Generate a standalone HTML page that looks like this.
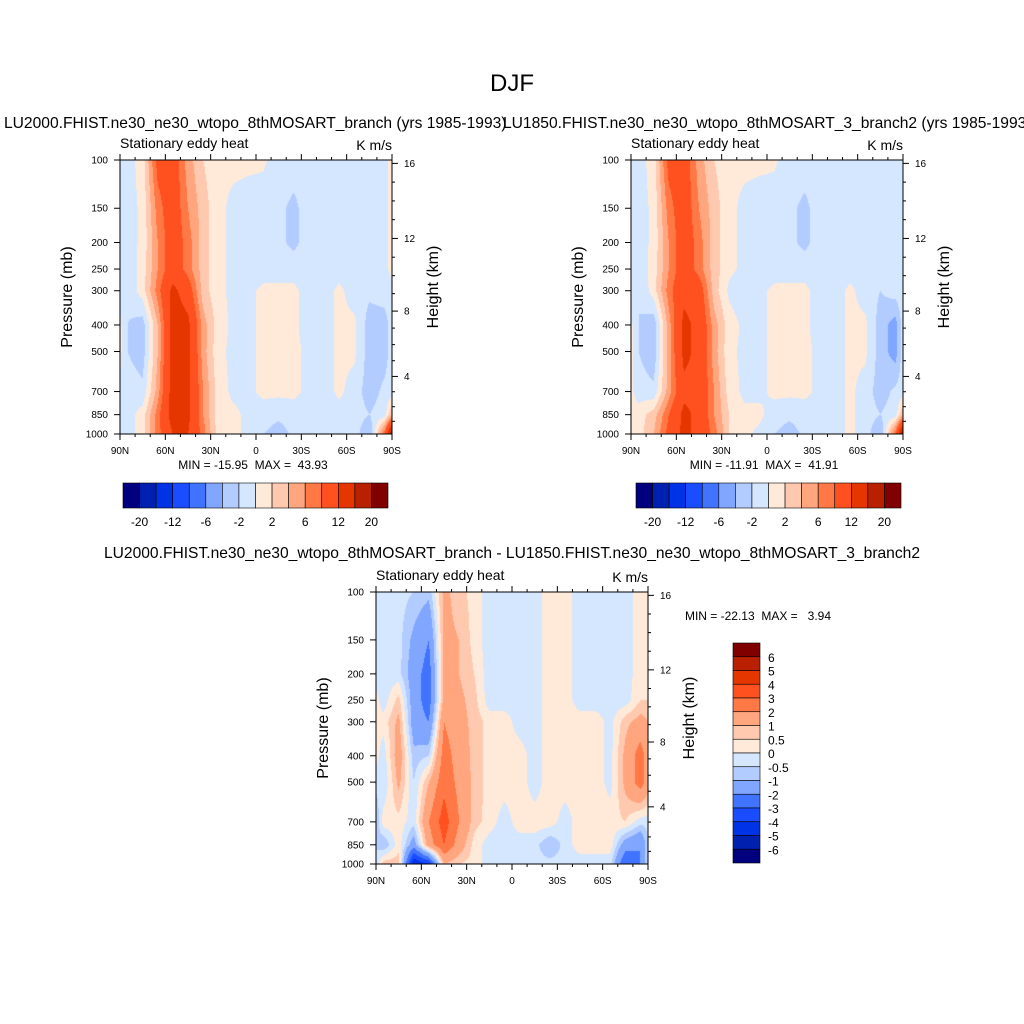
<!DOCTYPE html>
<html><head><meta charset="utf-8">
<style>
html,body{margin:0;padding:0;background:#fff;}
#wrap{position:relative;width:1024px;height:1024px;overflow:hidden;background:#fff;font-family:"Liberation Sans",sans-serif;}
canvas{position:absolute;}
svg{position:absolute;left:0;top:0;}
</style></head>
<body>
<div id="wrap">
<canvas id="c1" width="272" height="274" style="left:120px;top:160px"></canvas>
<canvas id="c2" width="272" height="274" style="left:631px;top:160px"></canvas>
<canvas id="c3" width="272" height="272" style="left:376px;top:592px"></canvas>
<svg id="ov" width="1024" height="1024" xmlns="http://www.w3.org/2000/svg" font-family="Liberation Sans, sans-serif">
<text x="512" y="91" font-size="24" text-anchor="middle">DJF</text>
<text x="4" y="128" font-size="15.6">LU2000.FHIST.ne30_ne30_wtopo_8thMOSART_branch (yrs 1985-1993)</text>
<text x="503" y="128" font-size="15.6">LU1850.FHIST.ne30_ne30_wtopo_8thMOSART_3_branch2 (yrs 1985-1993)</text>
<text x="512" y="558" font-size="15.6" text-anchor="middle">LU2000.FHIST.ne30_ne30_wtopo_8thMOSART_branch - LU1850.FHIST.ne30_ne30_wtopo_8thMOSART_3_branch2</text>
<text x="253" y="469" font-size="12" text-anchor="middle" xml:space="preserve">MIN = -15.95  MAX =  43.93</text>
<text x="764" y="469" font-size="12" text-anchor="middle" xml:space="preserve">MIN = -11.91  MAX =  41.91</text>
<text x="758" y="620" font-size="12" text-anchor="middle" xml:space="preserve">MIN = -22.13  MAX =   3.94</text>
</svg>
</div>
<script>
// ---- data ----
const lats = [90,85,75,65,55,45,35,25,15,5,-5,-15,-25,-35,-45,-55,-65,-75,-85,-90];
const plevs = [100,150,200,250,300,400,500,700,850,1000];
const levelsFull = [-20,-16,-12,-8,-6,-4,-2,0,2,4,6,8,12,16,20];
const levelsDiff = [-6,-5,-4,-3,-2,-1,-0.5,0,0.5,1,2,3,4,5,6];
const fullTickLabels = ['-20','-12','-6','-2','2','6','12','20'];
const diffTickLabels = ['-6','-5','-4','-3','-2','-1','-0.5','0','0.5','1','2','3','4','5','6'];
const latTickLabels = ['90N','60N','30N','0','30S','60S','90S'];
const latTicks = [90,60,30,0,-30,-60,-90];
const presTicks = [100,150,200,250,300,400,500,700,850,1000];
const heightTicks = [4,8,12,16];
const colors = ['#00007f','#0020b0','#0032e6','#1a4dff','#4073ff','#80a6ff','#b3ccff','#d5e6ff','#ffeada','#ffc9b0','#ffa67f','#ff7845','#ff5020','#e63600','#b82000','#800000'];

const field1 = [
 [-1,-1,1,9,10,5,2,0.5,0.5,0.5,0.3,-1,-1,-1,-1,-1,-1,-1,-0.5,0.5],
 [-1,-1,0.5,7,10,6,3,0.5,-0.5,-1,-1,-1.5,-2.5,-1,-1,-1,-1,-1,-0.5,0.5],
 [-1,-1,0.5,6,10,7,3,0.5,-0.5,-1,-1,-1.5,-2.5,-1,-1,-1,-1,-1,-0.5,0.5],
 [-1,-1.5,1,6,10,7,3,0.5,-0.5,-1,-1,-1,-1,-1,-1,-1,-1,-1,-0.5,0.5],
 [-1,-1.5,1,7,13,10,3,0.5,-0.5,-0.5,0.5,0.5,0.5,-1,-1,0.5,-1,-1.5,-1,-0.5],
 [0.5,-2,-3,4,14,13,5,1,-0.5,-0.5,0.5,0.5,0.5,-1,-1,0.5,0.5,-3,-3,-1],
 [0.5,-2,-3,4,14,13,5,0.5,-0.5,-0.5,0.5,0.5,0.5,-0.5,-1,0.5,0.5,-3,-3,-1],
 [-0.5,-1,-1.5,5,14,13,6,1,-0.5,-0.5,0.5,0.5,0.5,-0.5,-1,0.5,-1,-3,-1.5,-1],
 [-0.5,-1,1,7,14,13,6,1,0.5,-0.5,-1,-1.5,-1,-1,-1,-1,-1,-2,-1,4],
 [-0.5,-1,1,7,12,12,7,1,0.5,-0.5,-2,-3,-1.5,-1,-1,-1,-1,-4,8,20]
];
const field2 = [
 [-1,-1,1,9,10,5,2,0.5,0.5,0.5,0.3,-1,-1,-1,-1,-1,-1,-1,-0.5,-0.5],
 [-1,-1,0.5,7,10,6,3,0.5,-0.5,-1,-1,-1.5,-2.5,-1,-1,-1,-1,-1,-0.5,-0.5],
 [-1,-1,0.5,6,10,7,3,0.5,-0.5,-1,-1,-1.5,-2.5,-1,-1,-1,-1,-1,-0.5,-0.5],
 [-1,-1.5,1,6,10,7,3,0.5,-0.5,-1,-1,-1,-1,-1,-1,-1,-1,-1,-0.5,-0.5],
 [-1,-2,1,7,11,10,3,-0.5,-1.5,-0.5,0.5,0.5,0.5,-1,-1,0.5,-1,-2,-1,-0.5],
 [0.5,-2,-3.5,5,13,11,5,1,-0.5,-0.5,0.5,0.5,0.5,-1,-1,0.5,0.5,-3,-5,-1],
 [0.5,-2,-3.5,5,13,11,5,0.5,-0.5,-0.5,0.5,0.5,0.5,-0.5,-1,0.5,0.5,-3,-5,-1],
 [0.5,-1,-1.5,5,11,11,6,1,-0.5,-0.5,0.5,0.5,0.5,-0.5,-1,0.5,-1,-3,-1.5,-1],
 [0.5,1,3,8,13,11,6,2,0.5,0.5,-1,-1.5,-1,-1,-1,0.5,-1,-2,-1,4],
 [0.5,1,4,9,13,11,7,2,0.5,-0.5,-2,-3,-1.5,-1,-1,0.5,-1,-4,8,20]
];
const field3 = [
 [-0.3,-0.3,-0.3,-0.5,-0.8,1.2,0.7,0.3,-0.3,-0.3,-0.3,-0.3,0.3,0.3,-0.3,-0.3,-0.3,-0.3,0.3,0.3],
 [-0.3,-0.3,-0.3,-1.2,-2,1.2,1,0.3,-0.3,-0.3,-0.3,-0.3,0.3,0.3,-0.3,-0.3,-0.3,-0.3,0.3,0.3],
 [-0.3,-0.3,-0.3,-1.5,-2.5,1.3,1,0.5,-0.3,-0.3,-0.3,-0.3,0.3,0.3,-0.3,-0.3,-0.3,-0.3,0.3,0.3],
 [0.2,-0.3,0.7,-1.5,-2.5,1.3,1.2,0.7,-0.3,-0.3,-0.3,-0.3,0.3,0.3,-0.3,-0.3,-0.3,-0.3,0.5,0.5],
 [0.2,0.2,1.2,-1.5,-2,2,1.3,0.8,0.3,0.3,-0.3,-0.3,0.3,0.3,0.3,0.3,-0.2,0.8,1.3,1],
 [0.2,-0.3,1.5,-0.8,-0.5,2.5,1.5,0.8,0.3,0.3,0.3,-0.3,0.3,0.3,0.3,0.3,-0.2,1.2,2.5,1.5],
 [-0.3,-0.5,1.2,-0.5,1,2.7,1.7,0.8,0.3,0.3,0.3,-0.3,0.3,0.3,0.3,0.3,-0.2,1.2,2.5,1.5],
 [-1,0.3,0.3,-0.3,2,3.5,2,0.7,0.3,-0.3,0.3,0.3,0.3,-0.3,0.3,0.3,0.3,0.5,-0.3,-0.3],
 [-0.5,-1,0.3,-1.5,1.5,3,1.5,0.3,-0.3,-0.3,-0.3,-0.3,-1,-0.3,0.3,0.3,0.3,-1.5,-2,-0.5],
 [-0.5,0.8,0.8,-5,-4,1,0.5,0.3,-0.3,-0.3,-0.3,-0.3,-0.3,-0.3,-0.3,-0.3,-0.3,-3,-2,-0.5]
];

// ---- rendering ----
function hex(c){return [parseInt(c.substr(1,2),16),parseInt(c.substr(3,2),16),parseInt(c.substr(5,2),16)];}
const rgb = colors.map(hex);
function bracket(arr, v, desc){
  for(let i=0;i<arr.length-1;i++){
    const a=arr[i], b=arr[i+1];
    if(desc ? (v<=a && v>=b) : (v>=a && v<=b)){ return [i,(v-a)/(b-a)]; }
  }
  return desc ? (v>arr[0]?[0,0]:[arr.length-2,1]) : (v<arr[0]?[0,0]:[arr.length-2,1]);
}
const logP = plevs.map(p=>Math.log10(p));
function drawField(id, field, levels){
  const cv=document.getElementById(id), ctx=cv.getContext('2d');
  const W=cv.width,H=cv.height, img=ctx.createImageData(W,H);
  for(let y=0;y<H;y++){
    const lp = 2 + (y+0.5)/H;
    const [j,ty]=bracket(logP,lp,false);
    for(let x=0;x<W;x++){
      const lat = 90 - (x+0.5)/W*180;
      const [i,tx]=bracket(lats,lat,true);
      const v = (1-ty)*((1-tx)*field[j][i]+tx*field[j][i+1]) + ty*((1-tx)*field[j+1][i]+tx*field[j+1][i+1]);
      let k=0; while(k<levels.length && v>=levels[k]) k++;
      const c=rgb[k], o=(y*W+x)*4;
      img.data[o]=c[0];img.data[o+1]=c[1];img.data[o+2]=c[2];img.data[o+3]=255;
    }
  }
  ctx.putImageData(img,0,0);
}
drawField('c1',field1,levelsFull);
drawField('c2',field2,levelsFull);
drawField('c3',field3,levelsDiff);

const NS='http://www.w3.org/2000/svg', ov=document.getElementById('ov');
function mk(tag, attrs, txt){
  const e=document.createElementNS(NS,tag);
  for(const k in attrs) e.setAttribute(k,attrs[k]);
  if(txt!==undefined) e.textContent=txt;
  ov.appendChild(e); return e;
}
function zToP(z){ const m=z*1000; return m<11000 ? 1013.25*Math.pow(1-2.25577e-5*m,5.25588) : 226.32*Math.exp(-(m-11000)/6341.6); }

function axes(P, tag){
  const xOf = lat => P.x + (90-lat)/180*P.w;
  const yOf = p => P.y + Math.log10(p/100)*P.h;
  let e;
  e=mk('rect',{x:P.x,y:P.y,width:P.w,height:P.h,fill:'none',stroke:'#000','stroke-width':1});
  
  
  for(let lat=90;lat>=-90;lat-=10){
    const major = lat%30===0, len = major?6:3, x=xOf(lat);
    e=mk('line',{x1:x,x2:x,y1:P.y+P.h,y2:P.y+P.h+len,stroke:'#000'});
    
    
    e=mk('line',{x1:x,x2:x,y1:P.y,y2:P.y-len,stroke:'#000'});
    
    
  }
  latTicks.forEach((lat,i)=>{
    e=mk('text',{x:xOf(lat),y:P.y+P.h+20,'font-size':10,'text-anchor':'middle'},latTickLabels[i]);
    
    
  });
  presTicks.forEach(p=>{
    const y=yOf(p);
    e=mk('line',{x1:P.x-6,x2:P.x,y1:y,y2:y,stroke:'#000'});
    
    
    e=mk('text',{x:P.x-12,y:y+3.5,'font-size':10,'text-anchor':'end'},String(p));
    
    
  });
  for(let z=1;z<=16;z++){
    const y=yOf(zToP(z)); if(y<P.y) continue;
    const major = z%4===0;
    e=mk('line',{x1:P.x+P.w,x2:P.x+P.w+(major?6:3),y1:y,y2:y,stroke:'#000'});
    
    
  }
  heightTicks.forEach(z=>{
    const y=yOf(zToP(z));
    e=mk('text',{x:P.x+P.w+12,y:y+3.5,'font-size':10},String(z));
    
    
  });
  e=mk('text',{x:P.x,y:P.y-12,'font-size':14},'Stationary eddy heat');
  
  
  e=mk('text',{x:P.x+P.w,y:P.y-10,'font-size':14,'text-anchor':'end'},'K m/s');
  
  
  const cy=P.y+P.h/2;
  e=mk('text',{x:P.x-48,y:cy,'font-size':16,'text-anchor':'middle',transform:'rotate(-90 '+(P.x-48)+' '+cy+')'},'Pressure (mb)');
  
  
  e=mk('text',{x:P.x+P.w+46,y:cy-10,'font-size':16,'text-anchor':'middle',transform:'rotate(-90 '+(P.x+P.w+46)+' '+(cy-10)+')'},'Height (km)');
  
  
}
axes({x:120,y:160,w:272,h:274},'panel1');
axes({x:631,y:160,w:272,h:274},'panel2');
axes({x:376,y:592,w:272,h:272},'panel3');

function hbar(x0,y0,w,h,tag){
  const bw=w/colors.length; let e;
  colors.forEach((c,i)=>{
    e=mk('rect',{x:x0+i*bw,y:y0,width:bw,height:h,fill:c,stroke:'#000','stroke-width':0.6});
    
    
  });
  fullTickLabels.forEach((t,i)=>{
    e=mk('text',{x:x0+(2*i+1)*bw,y:y0+h+18,'font-size':12,'text-anchor':'middle'},t);
    
    
  });
}
hbar(123,483,265,25,'colorbar1');
hbar(636,483,265,25,'colorbar2');

(function(){
  const x0=733,y0=643,w=27,h=220,bh=h/colors.length; let e;
  colors.slice().reverse().forEach((c,i)=>{
    e=mk('rect',{x:x0,y:y0+i*bh,width:w,height:bh,fill:c,stroke:'#000','stroke-width':0.6});
    
    
  });
  diffTickLabels.slice().reverse().forEach((t,i)=>{
    e=mk('text',{x:x0+w+8,y:y0+(i+1)*bh+5,'font-size':12},t);
    
    
  });
})();
</script>
</body></html>
